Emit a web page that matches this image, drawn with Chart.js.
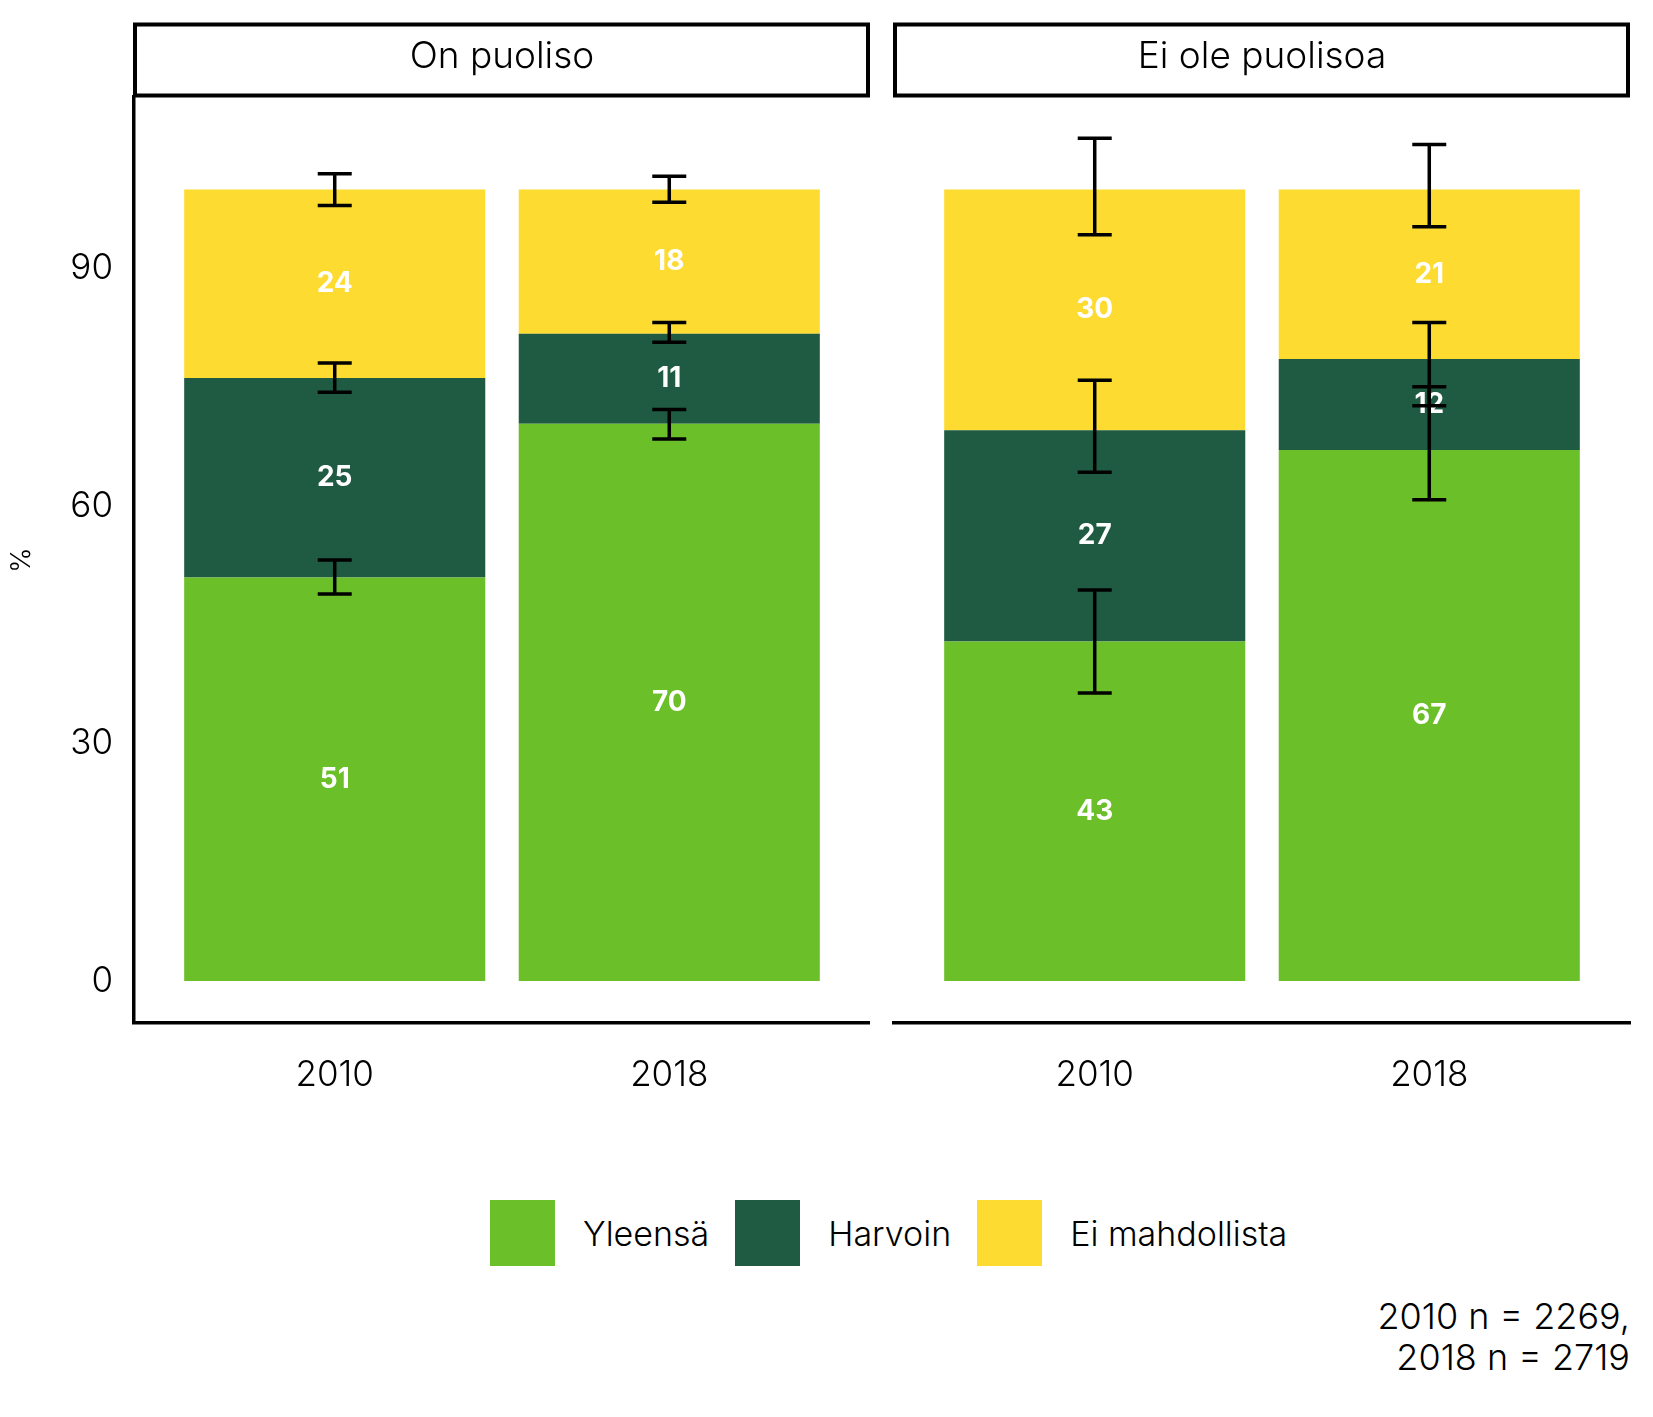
<!DOCTYPE html>
<html><head><meta charset="utf-8">
<script src="https://cdn.jsdelivr.net/npm/chart.js@4.4.1/dist/chart.umd.min.js"></script>
<style>
body{margin:0;background:#fff;}
#wrap{position:relative;width:1653px;height:1417px;background:#fff;font-family:Inter,'Open Sans',sans-serif;font-weight:300;color:#000;overflow:hidden;}
#c1{position:absolute;left:0;top:0;}
#c2{position:absolute;left:870px;top:0;}
#legend{position:absolute;left:490px;top:1200px;display:flex;align-items:center;height:66px;}
.key{width:65px;height:66px;}
.lt{font-size:34px;margin:0 26px 0 28px;white-space:nowrap;}
#note{position:absolute;right:23px;top:1296px;text-align:right;font-size:36px;line-height:41px;}
</style></head>
<body><div id="wrap">
<canvas id="c1" width="870" height="1110"></canvas>
<canvas id="c2" width="783" height="1110"></canvas>
<div id="legend"></div>
<div id="note"></div>
</div>
<script>
const years = ['2010', '2018'];
const panels = ['On puoliso', 'Ei ole puolisoa'];
const seriesNames = ['Yleensä', 'Harvoin', 'Ei mahdollista'];
const seriesColors = ['#6bbf28', '#1f5a43', '#fddb31'];
const yTicks = [0, 30, 60, 90];

// On puoliso: values for [2010, 2018]
const onYleensa = [51.0, 70.4];
const onHarvoin = [25.2, 11.4];
const onEiMahd = [23.8, 18.2];
// Ei ole puolisoa
const eiYleensa = [42.9, 67.1];
const eiHarvoin = [26.7, 11.5];
const eiEiMahd = [30.4, 21.4];

// error bars (low, high) at cumulative positions
const onYleensaErr = [[48.9, 53.2], [68.5, 72.2]];
const onHarvoinErr = [[74.4, 78.1], [80.7, 83.2]];
const onEiMahdErr = [[98.0, 102.0], [98.4, 101.7]];
const eiYleensaErr = [[36.4, 49.4], [60.8, 75.1]];
const eiHarvoinErr = [[64.3, 75.9], [72.7, 83.2]];
const eiEiMahdErr = [[94.3, 106.5], [95.3, 105.7]];

const notes = ['2010 n = 2269,', '2018 n = 2719'];

const FONT = 'Inter';

const lg = document.getElementById('legend');
seriesNames.forEach((n, i) => {
  const k = document.createElement('div'); k.className = 'key'; k.style.background = seriesColors[i]; lg.appendChild(k);
  const t = document.createElement('div'); t.className = 'lt'; t.textContent = n; lg.appendChild(t);
});
document.getElementById('note').innerHTML = notes.join('<br>');

const stripPlugin = {
  id: 'strip',
  afterDraw(chart, args, opts) {
    const ctx = chart.ctx, a = chart.chartArea;
    ctx.save();
    ctx.lineWidth = 4; ctx.strokeStyle = '#000';
    ctx.strokeRect(a.left + 1, 24.5, a.right - a.left - 3, 71);
    ctx.fillStyle = '#000';
    ctx.font = '300 37px ' + FONT;
    ctx.textAlign = 'center'; ctx.textBaseline = 'middle';
    ctx.fillText(opts.title, (a.left + a.right) / 2, 57);
    ctx.restore();
  }
};

const marksPlugin = {
  id: 'marks',
  afterDatasetsDraw(chart, args, opts) {
    const ctx = chart.ctx, ys = chart.scales.y;
    ctx.save();
    ctx.fillStyle = '#fff';
    ctx.font = '700 28px ' + FONT;
    ctx.textAlign = 'center'; ctx.textBaseline = 'middle';
    chart.data.datasets.forEach((ds, i) => {
      const meta = chart.getDatasetMeta(i);
      meta.data.forEach((el, j) => {
        ctx.fillText(String(Math.round(ds.data[j].y)), el.x, (el.y + el.base) / 2);
      });
    });
    ctx.strokeStyle = '#000'; ctx.lineWidth = 3.5; ctx.lineCap = 'butt';
    chart.data.datasets.forEach((ds, i) => {
      const meta = chart.getDatasetMeta(i);
      meta.data.forEach((el, j) => {
        const e = opts.errs[i][j];
        const y1 = ys.getPixelForValue(e[0]), y2 = ys.getPixelForValue(e[1]);
        const x = el.x, hw = 17;
        ctx.beginPath();
        ctx.moveTo(x, y1); ctx.lineTo(x, y2);
        ctx.moveTo(x - hw, y1); ctx.lineTo(x + hw, y1);
        ctx.moveTo(x - hw, y2); ctx.lineTo(x + hw, y2);
        ctx.stroke();
      });
    });
    ctx.restore();
  }
};

function makePanel(id, title, vals, errs, showY, padL, padR) {
  const datasets = vals.map((v, i) => ({
    label: seriesNames[i],
    data: v.map((y, j) => ({ x: j + 1, y: y })),
    backgroundColor: seriesColors[i],
    borderWidth: 0,
    barPercentage: 0.9,
    categoryPercentage: 1.0
  }));
  new Chart(document.getElementById(id), {
    type: 'bar',
    data: { datasets },
    plugins: [stripPlugin, marksPlugin],
    options: {
      responsive: false,
      animation: false,
      devicePixelRatio: 1,
      layout: { padding: { top: 97, left: padL, right: padR, bottom: 0 } },
      plugins: {
        legend: { display: false },
        tooltip: { enabled: false },
        strip: { title },
        marks: { errs }
      },
      scales: {
        x: {
          type: 'linear', min: 0.4, max: 2.6, stacked: true, offset: false,
          grid: { display: false, drawTicks: false },
          border: { display: true, color: '#000', width: 3.5 },
          afterBuildTicks: s => { s.ticks = years.map((y, i) => ({ value: i + 1 })); },
          ticks: {
            callback: v => years[v - 1], color: '#000', padding: 31,
            font: { family: FONT, size: 35, weight: 300 }, maxRotation: 0, autoSkip: false
          },
          afterFit: s => { s.height = 87; }
        },
        y: {
          type: 'linear', min: -5.3, max: 111.7, stacked: true, display: showY,
          grid: { display: false, drawTicks: false },
          border: { display: true, color: '#000', width: 3.5 },
          afterBuildTicks: s => { s.ticks = yTicks.map(v => ({ value: v })); },
          ticks: { color: '#000', padding: 21, font: { family: FONT, size: 35, weight: 300 } },
          title: { display: true, text: '%', color: '#000', font: { family: FONT, size: 27, weight: 300 }, padding: { top: 6, bottom: 0 } },
          afterFit: s => { if (showY) s.width = 134; }
        }
      }
    }
  });
}

makePanel('c1', panels[0], [onYleensa, onHarvoin, onEiMahd], [onYleensaErr, onHarvoinErr, onEiMahdErr], true, 0, 0);
makePanel('c2', panels[1], [eiYleensa, eiHarvoin, eiEiMahd], [eiYleensaErr, eiHarvoinErr, eiEiMahdErr], false, 24, 23);
</script>
</body></html>
